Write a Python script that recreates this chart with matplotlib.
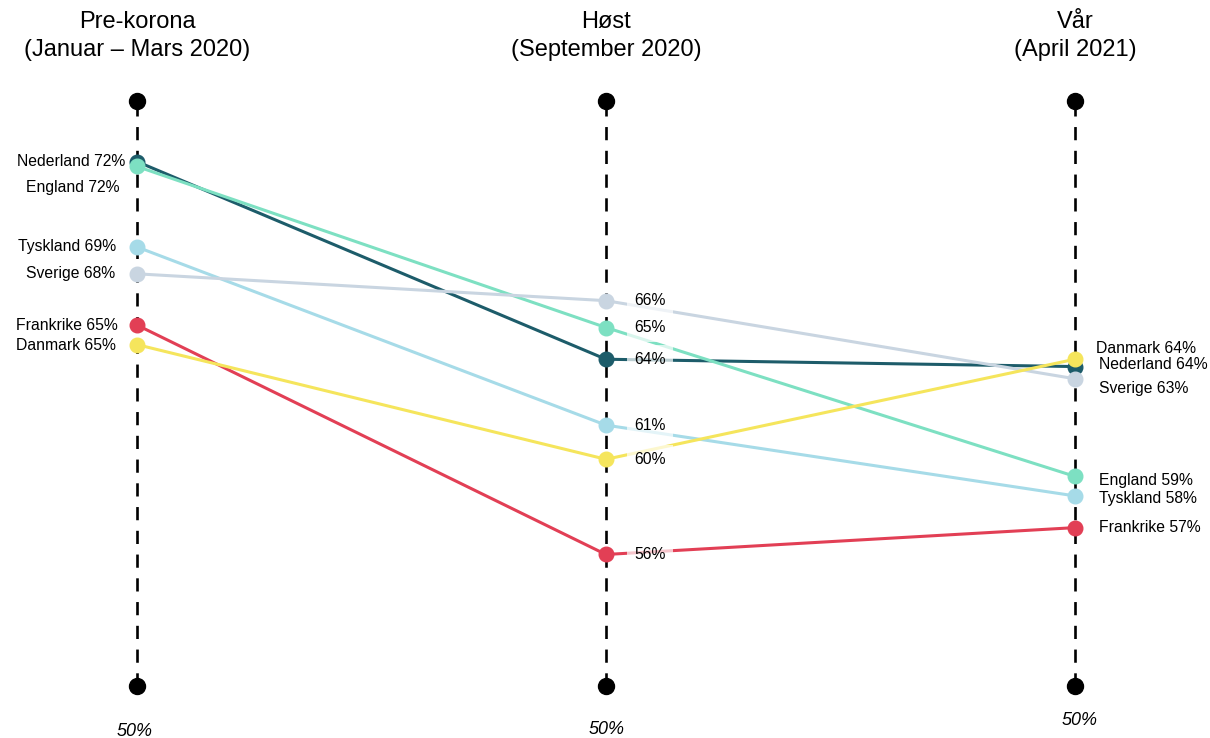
import matplotlib
matplotlib.use("Agg")
import matplotlib.pyplot as plt

plt.rcParams['font.family'] = ['Liberation Sans', 'DejaVu Sans']

# --- data (share of respondents, %) ---
periods = ["Pre-korona\n(Januar – Mars 2020)", "Høst\n(September 2020)", "Vår\n(April 2021)"]
countries = ["Nederland", "England", "Tyskland", "Sverige", "Frankrike", "Danmark"]
pre_korona = [72.1, 71.9, 68.6, 67.5, 65.4, 64.6]
host_2020 = [64.0, 65.3, 61.3, 66.4, 56.0, 59.9]
var_2021 = [63.7, 59.2, 58.4, 63.2, 57.1, 64.0]
colors = ["#1d5c6a", "#7de0c2", "#a6dbe8", "#c9d5e1", "#e23f55", "#f5e55c"]
axis_top = 74.6
axis_bottom = 50.6
axis_label = "50%"

# label offsets (repel-style nudges so labels don't overlap)
left_dx = [0.0, -0.011, -0.019, -0.021, -0.015, -0.019]
left_dy = [0.0, -0.85, 0.0, 0.0, 0.0, -0.05]
right_dx = [0.0, 0.0, 0.0, 0.0, 0.0, -0.006]
right_dy = [0.1, -0.15, -0.1, -0.4, 0.0, 0.45]
bottom_dx = [-0.004, 0.002, 0.011]
bottom_y = [48.76, 48.84, 49.21]

values = list(zip(pre_korona, host_2020, var_2021))
xs = [0, 1, 2]

fig = plt.figure(figsize=(12.1, 7.38), dpi=100)
ax = fig.add_axes([0, 0, 1, 1])
ax.set_xlim(-0.292, 2.288)
ax.set_ylim(48.48, 78.72)
ax.axis('off')

# vertical dashed axes
for x in xs:
    ax.plot([x, x], [axis_bottom, axis_top], color='black', lw=1.9,
            dashes=(5, 4), zorder=1)
    ax.plot([x, x], [axis_bottom, axis_top], 'o', color='black', ms=11.5,
            zorder=2)

# lines + dots
for i, (name, vals, c) in enumerate(zip(countries, values, colors)):
    ax.plot(xs, vals, color=c, lw=2.2, zorder=3 + i * 0.1)
    ax.plot(xs, vals, 'o', color=c, ms=10.5, zorder=5 + i * 0.1)

fs = 11.3
# left labels
for name, v, dx, dy in zip(countries, pre_korona, left_dx, left_dy):
    ax.text(-0.026 + dx, v + dy, f"{name} {round(v)}%", ha='right',
            va='center', fontsize=fs, zorder=8)

# middle labels with translucent white box
for v in host_2020:
    ax.text(1.06, v, f"{round(v)}%", ha='left', va='center', fontsize=fs,
            zorder=4.9,
            bbox=dict(boxstyle='square,pad=0.45', fc='white', ec='none', alpha=0.7))

# right labels
for name, v, dx, dy in zip(countries, var_2021, right_dx, right_dy):
    ax.text(2.051 + dx, v + dy, f"{name} {round(v)}%", ha='left',
            va='center', fontsize=fs, zorder=8)

# titles
for x, t in zip(xs, periods):
    ax.text(x, 77.25, t, ha='center', va='center', fontsize=17, linespacing=1.32)

# bottom axis labels
for x, dx, y in zip(xs, bottom_dx, bottom_y):
    ax.text(x + dx, y, axis_label, ha='center', va='center', fontsize=13,
            style='italic')

fig.savefig("out.png", dpi=100)
